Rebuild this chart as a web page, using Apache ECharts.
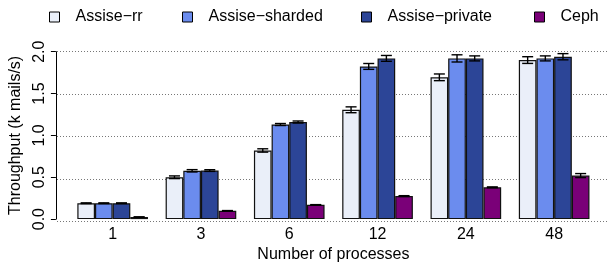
<!DOCTYPE html>
<html>
<head>
<meta charset="utf-8">
<script src="https://cdn.jsdelivr.net/npm/echarts@6/dist/echarts.min.js"></script>
<style>
  html, body { margin: 0; padding: 0; background: #fff; }
  #main { width: 607px; height: 268px; }
</style>
</head>
<body>
<div id="main"></div>
<script>
// categories (number of processes)
const processes = ['1', '3', '6', '12', '24', '48']
const seriesNames = ['Assise−rr', 'Assise−sharded', 'Assise−private', 'Ceph']
// throughput, k mails/s
const assiseRr = [0.19, 0.50, 0.82, 1.306, 1.694, 1.90]
const assiseSharded = [0.19, 0.577, 1.13, 1.824, 1.92, 1.92]
const assisePrivate = [0.19, 0.58, 1.16, 1.92, 1.92, 1.94]
const ceph = [0.025, 0.099, 0.17, 0.275, 0.38, 0.52]
// error (half range)
const errRr = [0.004, 0.016, 0.02, 0.035, 0.04, 0.04]
const errSharded = [0.004, 0.014, 0.012, 0.035, 0.043, 0.03]
const errPrivate = [0.004, 0.01, 0.012, 0.035, 0.03, 0.037]
const errCeph = [0.002, 0.003, 0.003, 0.005, 0.005, 0.024]
const yTicks = [0, 0.5, 1.0, 1.5, 2.0]

const colors = ['#EAEFF9', '#6B8CEE', '#2C4597', '#7A0078']
const values = [assiseRr, assiseSharded, assisePrivate, ceph]
const errors = [errRr, errSharded, errPrivate, errCeph]
const font = "'Liberation Sans', Arial, sans-serif"

const chart = echarts.init(document.getElementById('main'))

const barSeries = values.map((v, k) => ({
  name: seriesNames[k],
  type: 'bar',
  xAxisIndex: 1,
  yAxisIndex: 1,
  data: v,
  barGap: '0%',
  barCategoryGap: '20%',
  itemStyle: { color: colors[k], borderColor: '#111', borderWidth: 1.2 },
  emphasis: { disabled: true },
  z: 2
}))

// error bars drawn on top of each bar
const errSeries = values.map((v, k) => ({
  type: 'custom',
  xAxisIndex: 1,
  yAxisIndex: 1,
  data: v.map((val, i) => [i, val - errors[k][i], val + errors[k][i]]),
  renderItem (params, api) {
    const band = api.size([1, 0])[0]
    const bw = band * 0.8 / 4
    const lo = api.coord([api.value(0), api.value(1)])
    const hi = api.coord([api.value(0), api.value(2)])
    const x = lo[0] + (k - 1.5) * bw
    const cap = 5.5
    const style = { stroke: '#000', lineWidth: 1.4 }
    return {
      type: 'group',
      children: [
        { type: 'line', shape: { x1: x, y1: lo[1], x2: x, y2: hi[1] }, style },
        { type: 'line', shape: { x1: x - cap, y1: lo[1], x2: x + cap, y2: lo[1] }, style },
        { type: 'line', shape: { x1: x - cap, y1: hi[1], x2: x + cap, y2: hi[1] }, style }
      ]
    }
  },
  z: 3,
  silent: true
}))

const legendLeft = [44, 177, 356, 529]

const option = {
  animation: false,
  textStyle: { fontFamily: font },
  legend: seriesNames.map((n, k) => ({
    data: [n],
    left: legendLeft[k],
    top: 4,
    itemWidth: 10,
    itemHeight: 10,
    icon: 'rect',
    itemStyle: { borderColor: '#000', borderWidth: 1 },
    textStyle: { fontSize: 16, color: '#000', fontFamily: font, padding: [0, 0, 0, 11] },
    selectedMode: false
  })),
  grid: [
    { left: 57, right: 0, top: 51.7, bottom: 46.3 },
    { left: 66.9, right: 8.7, top: 51.7, bottom: 46.3 }
  ],
  xAxis: [
    { type: 'value', gridIndex: 0, show: false, min: 0, max: 1 },
    {
      type: 'category',
      gridIndex: 1,
      data: processes,
      axisLine: { show: false },
      axisTick: { show: false },
      axisLabel: { fontSize: 16, color: '#000', margin: 7, fontFamily: font },
      name: 'Number of processes',
      nameLocation: 'middle',
      nameGap: 27,
      nameTextStyle: { fontSize: 16, color: '#000', fontFamily: font }
    }
  ],
  yAxis: [
    {
      type: 'value',
      gridIndex: 0,
      min: 0,
      max: 2,
      interval: 0.5,
      axisLine: { show: false },
      axisTick: { show: false },
      axisLabel: { show: false },
      splitLine: { lineStyle: { color: '#777', type: [1, 2], width: 1 } }
    },
    {
      type: 'value',
      gridIndex: 1,
      min: yTicks[0],
      max: yTicks[yTicks.length - 1],
      interval: 0.5,
      offset: 12.6,
      axisLine: { show: true, lineStyle: { color: '#000', width: 1 } },
      axisTick: { show: true, length: 5, lineStyle: { color: '#000' } },
      axisLabel: {
        fontSize: 16,
        color: '#000',
        rotate: 90,
        margin: 8,
        fontFamily: font,
        formatter: v => v.toFixed(1)
      },
      splitLine: { show: false },
      name: 'Throughput (k mails/s)',
      nameLocation: 'middle',
      nameGap: 30,
      nameTextStyle: { fontSize: 16, color: '#000', fontFamily: font }
    }
  ],
  series: [...barSeries, ...errSeries]
}

chart.setOption(option)
</script>
</body>
</html>
